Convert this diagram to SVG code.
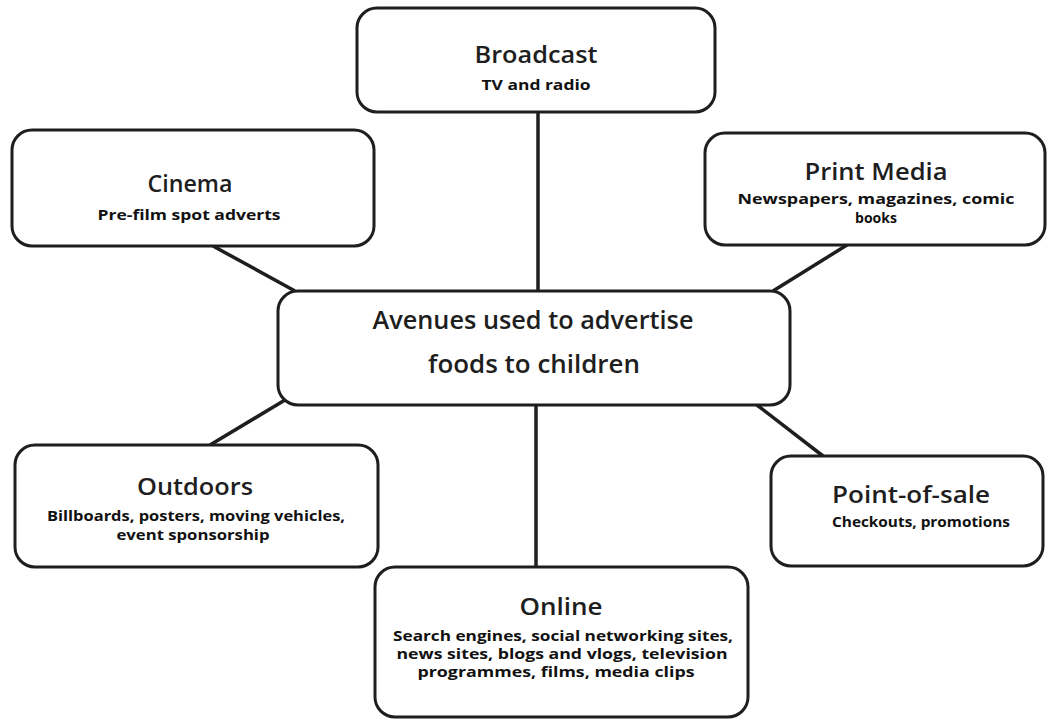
<svg xmlns="http://www.w3.org/2000/svg" width="1049" height="720" viewBox="0 0 1049 720">
<style>
.box{fill:#fff;stroke:#1e1e1e;stroke-width:3}
.con{stroke:#1e1e1e;stroke-width:3.5;fill:none}
.t{font-family:"Open Sans","Noto Sans",sans-serif;font-size:24px;font-weight:600;fill:#1e1e1e;text-anchor:middle}
.c{font-family:"Open Sans","Noto Sans",sans-serif;font-size:25px;font-weight:600;fill:#1e1e1e;text-anchor:middle}
.s{font-family:"Open Sans","Noto Sans",sans-serif;font-size:14px;font-weight:bold;fill:#111;text-anchor:middle}
</style>
<rect width="1049" height="720" fill="#fff"/>
<g id="connectors">
<line class="con" x1="538" y1="112" x2="538" y2="291"/>
<line class="con" x1="213" y1="246" x2="295" y2="291"/>
<line class="con" x1="847" y1="245" x2="773" y2="291"/>
<line class="con" x1="285" y1="400" x2="210" y2="445"/>
<line class="con" x1="757" y1="405" x2="823" y2="456"/>
<line class="con" x1="536" y1="405" x2="536" y2="567"/>
</g>
<g id="broadcast">
<rect class="box" x="357" y="8" width="358" height="104" rx="20"/>
<text class="t" x="536" y="63" textLength="123" lengthAdjust="spacingAndGlyphs">Broadcast</text>
<text class="s" x="536" y="90" textLength="109" lengthAdjust="spacingAndGlyphs">TV and radio</text>
</g>
<g id="cinema">
<rect class="box" x="12" y="130" width="362" height="116" rx="20"/>
<text class="t" x="190" y="192" textLength="85" lengthAdjust="spacingAndGlyphs">Cinema</text>
<text class="s" x="189" y="220" textLength="183" lengthAdjust="spacingAndGlyphs">Pre-film spot adverts</text>
</g>
<g id="print-media">
<rect class="box" x="705" y="133" width="340" height="112" rx="20"/>
<text class="t" x="876" y="180" textLength="143" lengthAdjust="spacingAndGlyphs">Print Media</text>
<text class="s" x="876" y="204" textLength="277" lengthAdjust="spacingAndGlyphs">Newspapers, magazines, comic</text>
<text class="s" x="876" y="223">books</text>
</g>
<g id="center">
<rect class="box" x="278" y="291" width="512" height="114" rx="20"/>
<text class="c" x="533" y="329" textLength="321" lengthAdjust="spacingAndGlyphs">Avenues used to advertise</text>
<text class="c" x="534" y="373" textLength="212" lengthAdjust="spacingAndGlyphs">foods to children</text>
</g>
<g id="outdoors">
<rect class="box" x="15" y="445" width="363" height="122" rx="20"/>
<text class="t" x="195" y="495" textLength="116" lengthAdjust="spacingAndGlyphs">Outdoors</text>
<text class="s" x="196" y="521" textLength="298" lengthAdjust="spacingAndGlyphs">Billboards, posters, moving vehicles,</text>
<text class="s" x="193" y="540" textLength="153" lengthAdjust="spacingAndGlyphs">event sponsorship</text>
</g>
<g id="point-of-sale">
<rect class="box" x="771" y="456" width="272" height="110" rx="20"/>
<text class="t" x="911" y="503" textLength="158" lengthAdjust="spacingAndGlyphs">Point-of-sale</text>
<text class="s" x="921" y="527" textLength="178" lengthAdjust="spacingAndGlyphs">Checkouts, promotions</text>
</g>
<g id="online">
<rect class="box" x="375" y="567" width="373" height="150" rx="20"/>
<text class="t" x="561" y="615" textLength="83" lengthAdjust="spacingAndGlyphs">Online</text>
<text class="s" x="563" y="641" textLength="340" lengthAdjust="spacingAndGlyphs">Search engines, social networking sites,</text>
<text class="s" x="562" y="659" textLength="331" lengthAdjust="spacingAndGlyphs">news sites, blogs and vlogs, television</text>
<text class="s" x="556" y="677" textLength="277" lengthAdjust="spacingAndGlyphs">programmes, films, media clips</text>
</g>
</svg>
